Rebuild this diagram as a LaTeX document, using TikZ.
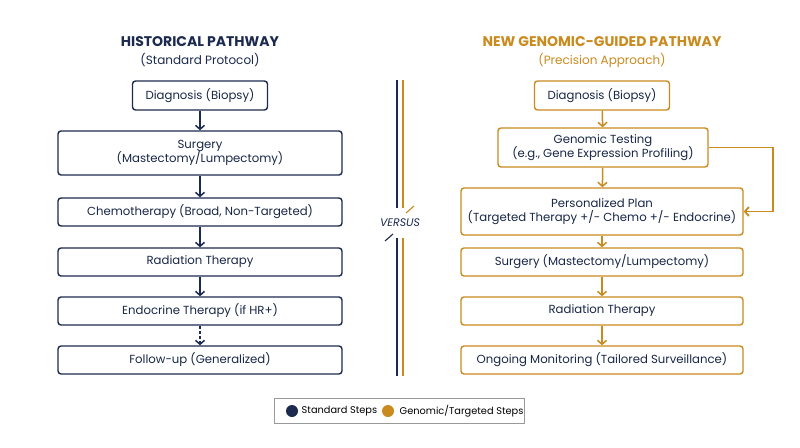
\documentclass[tikz,border=0pt]{standalone}
\usepackage{fontspec}
\setmainfont{Poppins}
\usetikzlibrary{positioning, calc, arrows.meta}
\definecolor{navy}{HTML}{1B2A4E}
\definecolor{gold}{HTML}{C98A1E}
\begin{document}
\begin{tikzpicture}[x=1pt, y=-1pt, >={Straight Barb[length=4pt, width=9pt]}, thick,
	stage/.style={draw, rounded corners=3pt, line width=1.4pt, align=center, inner sep=0pt, font=\fontsize{11.7}{14.5}\selectfont},
	hist/.style={stage, draw=navy, text=navy!90!black},
	gen/.style={stage, draw=gold, text=navy!90!black},
	arr/.style={->, line width=1.5pt}]
	\useasboundingbox (0,0) rectangle (800,447);
	% titles
	\node[text=navy, font=\bfseries\fontsize{14}{16}\selectfont] (TL) at (200,42) {HISTORICAL PATHWAY};
	\node[text=navy, font=\fontsize{12}{14}\selectfont] (TLs) at (200,60) {(Standard Protocol)};
	\node[text=gold, font=\bfseries\fontsize{14}{16}\selectfont] (TR) at (602,42) {NEW GENOMIC-GUIDED PATHWAY};
	\node[text=gold, font=\fontsize{12}{14}\selectfont] (TRs) at (602,60) {(Precision Approach)};
	
	%Historical:
	\node[hist, minimum width=135pt, minimum height=29pt] (A1) at (200,95.5) {Diagnosis (Biopsy)};
	\node[hist, minimum width=284pt, minimum height=44pt] (A2) at (200,153) {Surgery\\(Mastectomy/Lumpectomy)};
	\node[hist, minimum width=284pt, minimum height=28pt] (A3) at (200,212) {Chemotherapy (Broad, Non-Targeted)};
	\node[hist, minimum width=284pt, minimum height=28pt] (A4) at (200,262) {Radiation Therapy};
	\node[hist, minimum width=284pt, minimum height=28pt] (A5) at (200,311) {Endocrine Therapy (if HR+)};
	\node[hist, minimum width=284pt, minimum height=28pt] (A6) at (200,360) {Follow-up (Generalized)};
	\foreach \a/\b in {A1/A2, A2/A3, A3/A4, A4/A5}
		\draw[arr, navy] (\a) -- (\b);
	\draw[arr, navy, dash pattern=on 3pt off 2pt] (A5) -- (A6);
	
	%Genomic:
	\node[gen, minimum width=135pt, minimum height=29pt] (B1) at (602,95.5) {Diagnosis (Biopsy)};
	\node[gen, minimum width=210pt, minimum height=39pt] (B2) at (603,147.5) {Genomic Testing\\(e.g., Gene Expression Profiling)};
	\node[gen, minimum width=282pt, minimum height=47pt] (B3) at (602,211.5) {Personalized Plan\\(Targeted Therapy +/- Chemo +/- Endocrine)};
	\node[gen, minimum width=282pt, minimum height=28pt] (B4) at (602,262) {Surgery (Mastectomy/Lumpectomy)};
	\node[gen, minimum width=282pt, minimum height=28pt] (B5) at (602,311) {Radiation Therapy};
	\node[gen, minimum width=282pt, minimum height=28pt] (B6) at (602,360) {Ongoing Monitoring (Tailored Surveillance)};
	\foreach \a/\b in {B1/B2, B2/B3, B3/B4, B4/B5, B5/B6}
		\draw[arr, gold] (\a) -- (\b);
	\draw[arr, gold, line width=1.8pt] (B2.east) -- ++(64,0) |- (B3.east);
	
	%Versus divider
	\node[text=navy, font=\itshape\fontsize{11}{13}\selectfont] (V) at (400,223) {VERSUS};
	\draw[navy, line width=1.3pt] (397,80) -- (397,208) (397,238) -- (397,376);
	\draw[gold, line width=1.3pt] (403,80) -- (403,208) (403,238) -- (403,376);
	\draw[gold, line width=1.1pt] (406,213) -- (414,206);
	\draw[navy, line width=1.1pt] (385,241) -- (393,234);
	
	%Legend
	\node[draw=black!40, line width=0.8pt, minimum width=250pt, minimum height=25pt] (L) at (399,411) {};
	\fill[navy] (292,411) circle (6pt);
	\node[anchor=west, font=\fontsize{9.8}{12}\selectfont] (L1) at (298,411) {Standard Steps};
	\fill[gold] (388,411) circle (6pt);
	\node[anchor=west, font=\fontsize{9.8}{12}\selectfont] (L2) at (396,411) {Genomic/Targeted Steps};
\end{tikzpicture}
\end{document}
